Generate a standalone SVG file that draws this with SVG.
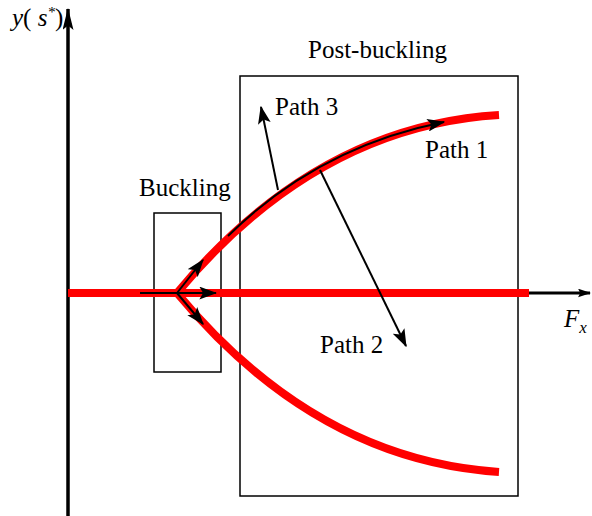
<svg xmlns="http://www.w3.org/2000/svg" width="592" height="516" viewBox="0 0 592 516">
<defs>
<marker id="ah" viewBox="0 0 14 10" markerWidth="18" markerHeight="13" refX="13" refY="5" orient="auto" markerUnits="userSpaceOnUse"><path d="M0,0 L14,5 L0,10 L3,5 Z" fill="#000"/></marker>
<marker id="ahx" viewBox="0 0 12 8" markerWidth="13" markerHeight="9" refX="11" refY="4" orient="auto" markerUnits="userSpaceOnUse"><path d="M0,0 L12,4 L0,8 L2,4 Z" fill="#000"/></marker>
<marker id="ahb" viewBox="0 0 20 10" markerWidth="22" markerHeight="11" refX="19" refY="5" orient="auto" markerUnits="userSpaceOnUse"><path d="M0,0 L20,5 L0,10 L4,5 Z" fill="#000"/></marker>
</defs>
<style>
.box{fill:none;stroke:#000;stroke-width:1.5}
.red{fill:none;stroke:#ff0000;stroke-width:8}
.blk{fill:none;stroke:#000;stroke-width:2}
.lbl{font-family:'Liberation Serif','Times New Roman',serif;font-size:25px;fill:#000}
</style>
<g id="axes">
<line x1="68" y1="516" x2="68" y2="9" stroke="#000" stroke-width="3.5" marker-end="url(#ahb)"/>
<line x1="520" y1="293" x2="590" y2="293" stroke="#000" stroke-width="3" marker-end="url(#ahx)"/>
</g>
<g id="buckling-box"><rect class="box" x="154" y="213" width="67" height="159"/><text class="lbl" x="139" y="196">Buckling</text></g>
<g id="postbuckling-box"><rect class="box" x="240" y="76" width="278" height="420"/><text class="lbl" x="308" y="58">Post-buckling</text></g>
<g id="curves">
<line class="red" x1="68" y1="293" x2="529" y2="293"/>
<path class="red" d="M177,293 Q316,126 499,115"/>
<path class="red" d="M177,293 Q316,460 499,472"/>
</g>
<g id="connectors">
<line x1="140" y1="293" x2="216" y2="293" class="blk" marker-end="url(#ah)"/>
<line x1="177" y1="293" x2="203" y2="260" class="blk" marker-end="url(#ah)"/>
<line x1="177" y1="293" x2="203" y2="324" class="blk" marker-end="url(#ah)"/>
<path class="blk" d="M228,236 Q318,147 444,122" marker-end="url(#ah)"/>
<line x1="278" y1="190" x2="261" y2="107" class="blk" marker-end="url(#ah)"/>
<line x1="320" y1="170" x2="406" y2="346" class="blk" marker-end="url(#ah)"/>
</g>
<g id="labels">
<text class="lbl" x="275" y="115">Path 3</text>
<text class="lbl" x="425" y="158">Path 1</text>
<text class="lbl" x="320" y="353">Path 2</text>
<text class="lbl" x="564" y="327" font-style="italic">F<tspan font-size="17" dy="6">x</tspan></text>
<text class="lbl" x="12" y="26" font-style="italic">y<tspan font-style="normal">(</tspan> s<tspan font-size="15" dy="-9">*</tspan><tspan font-style="normal" dy="9">)</tspan></text>
</g>
</svg>
